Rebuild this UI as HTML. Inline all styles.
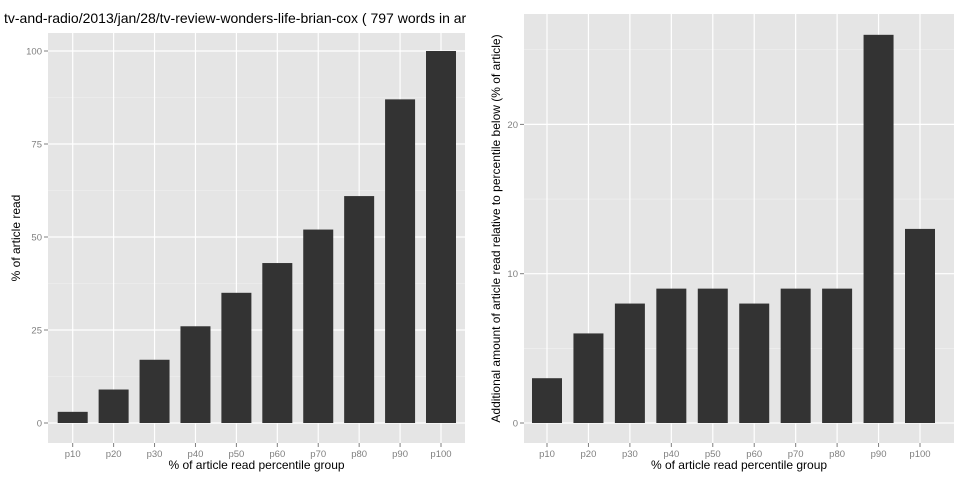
<!DOCTYPE html>
<html><head><meta charset="utf-8"><style>
body{margin:0;background:#fff;width:960px;height:480px;overflow:hidden;font-family:"Liberation Sans",sans-serif}
</style></head><body>
<svg id="c" width="960" height="480" xmlns="http://www.w3.org/2000/svg">
<text x="4" y="23" font-size="14" fill="#000">tv-and-radio/2013/jan/28/tv-review-wonders-life-brian-cox ( 797 words in ar</text>
</svg>
<script>
const categories=["p10","p20","p30","p40","p50","p60","p70","p80","p90","p100"];
const cumulativeValues=[3,9,17,26,35,43,52,61,87,100];
const leftTicks=[0,25,50,75,100];
const additionalValues=[3,6,8,9,9,8,9,9,26,13];
const rightTicks=[0,10,20];
const svg=document.getElementById('c');
const NS='http://www.w3.org/2000/svg';
function mk(tag,attrs,parent){const e=document.createElementNS(NS,tag);for(const k in attrs)e.setAttribute(k,attrs[k]);(parent||svg).appendChild(e);return e;}
function panel(p){
  const g=mk('g',{});
  
  
  const bg=mk('rect',{x:p.x0,y:p.top,width:p.x1-p.x0,height:p.bottom-p.top,fill:'#e5e5e5'},g);
  
  
  const y=v=>p.y0-(v-0)*p.k;
  const xc=i=>p.c0+i*(p.c1-p.c0)/(categories.length-1);
  // minor gridlines
  for(let i=0;i<p.ticks.length-1;i++){const m=(p.ticks[i]+p.ticks[i+1])/2;mk('line',{x1:p.x0,x2:p.x1,y1:y(m),y2:y(m),stroke:'#f2f2f2','stroke-width':0.6},g);}
  const top=p.ticks[p.ticks.length-1]+(p.ticks[1]-p.ticks[0])/2;
  if(y(top)>p.top)mk('line',{x1:p.x0,x2:p.x1,y1:y(top),y2:y(top),stroke:'#f2f2f2','stroke-width':0.6},g);
  p.ticks.forEach(t=>{
    mk('line',{x1:p.x0,x2:p.x1,y1:y(t),y2:y(t),stroke:'#fff','stroke-width':1.2},g);
    mk('line',{x1:p.x0-4,x2:p.x0,y1:y(t),y2:y(t),stroke:'#7f7f7f','stroke-width':1},g);
    const tl=mk('text',{x:p.x0-6,y:y(t)+3.5,'font-size':9.5,fill:'#7f7f7f','text-anchor':'end'},g);
    tl.textContent=t;
    
    
  });
  categories.forEach((c,i)=>{
    mk('line',{x1:xc(i),x2:xc(i),y1:p.top,y2:p.bottom,stroke:'#fff','stroke-width':1.2},g);
    mk('line',{x1:xc(i),x2:xc(i),y1:p.bottom,y2:p.bottom+4,stroke:'#7f7f7f','stroke-width':1},g);
    const tl=mk('text',{x:xc(i),y:p.bottom+14,'font-size':9.5,fill:'#7f7f7f','text-anchor':'middle'},g);
    tl.textContent=c;
    
    
  });
  p.values.forEach((v,i)=>{
    const b=mk('rect',{x:xc(i)-p.bw/2,y:y(v),width:p.bw,height:y(0)-y(v),fill:'#333333'},g);
    
    
  });
  const xt=mk('text',{x:(p.x0+p.x1)/2,y:p.bottom+26,'font-size':12,fill:'#000','text-anchor':'middle'},g);
  xt.textContent='% of article read percentile group';
  
  
  const cy=(p.top+p.bottom)/2;
  const yt=mk('text',{x:p.ytx,y:cy,'font-size':12,fill:'#000','text-anchor':'middle',transform:`rotate(-90 ${p.ytx} ${cy})`},g);
  yt.textContent=p.ytitle;
  
  
}
panel({name:'left-panel',x0:48,x1:465,top:33,bottom:443,y0:423,k:3.72,c0:72.7,c1:441,bw:30,values:cumulativeValues,ticks:leftTicks,ytx:20,ytitle:'% of article read'});
panel({name:'right-panel',x0:524,x1:954,top:14,bottom:443,y0:423,k:14.93,c0:547,c1:920,bw:30,values:additionalValues,ticks:rightTicks,ytx:500,ytitle:'Additional amount of article read relative to percentile below (% of article)'});
</script>
</body></html>
